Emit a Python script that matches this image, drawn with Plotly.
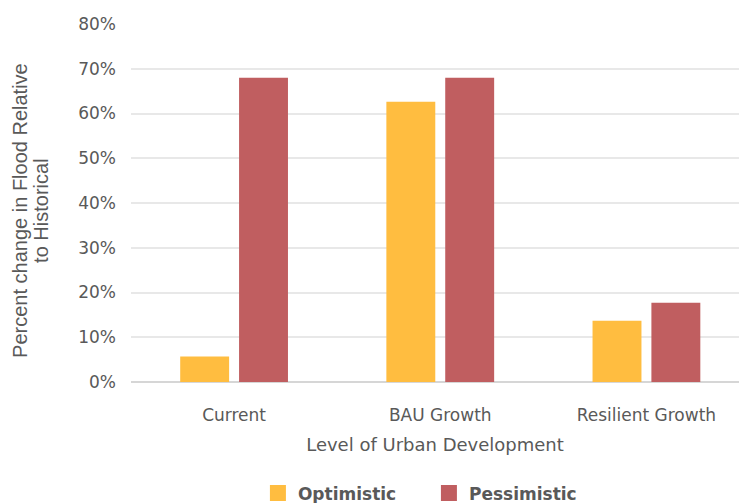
import plotly.graph_objects as go

categories = ["Current", "BAU Growth", "Resilient Growth"]
optimistic = [0.057, 0.626, 0.137]
pessimistic = [0.680, 0.680, 0.177]
y_ticks = [0, 0.1, 0.2, 0.3, 0.4, 0.5, 0.6, 0.7, 0.8]
y_title_lines = ["Percent change in Flood Relative", "to Historical"]

YELLOW = "#FFBD40"
RED = "#C05E60"
TEXT = "#595959"
FONT = "DejaVu Sans"
TITLE_FONT = "Liberation Sans"

fig = go.Figure()
fig.add_trace(go.Bar(x=categories, y=optimistic, name="Optimistic",
                     marker=dict(color=YELLOW, line=dict(width=0)), showlegend=False))
fig.add_trace(go.Bar(x=categories, y=pessimistic, name="Pessimistic",
                     marker=dict(color=RED, line=dict(width=0)), showlegend=False))

# legend entries with larger square swatches
for name, col in [("Optimistic", YELLOW), ("Pessimistic", RED)]:
    fig.add_trace(go.Scatter(x=[None], y=[None], mode="markers", name=name,
                             marker=dict(symbol="square", size=19, color=col)))

# two-line vertical y-axis title with tight line spacing
for i, line in enumerate(y_title_lines):
    fig.add_annotation(text=line, textangle=-90, showarrow=False,
                       xref="paper", yref="paper", x=0, y=0.478,
                       xanchor="center", yanchor="middle",
                       xshift=-111 + 21 * i,
                       font=dict(family=TITLE_FONT, size=20, color=TEXT))

fig.update_layout(
    width=739, height=503,
    margin=dict(l=131, r=0, t=24, b=120.5, autoexpand=False),
    plot_bgcolor="white", paper_bgcolor="white",
    barmode="group", bargap=0.429, bargroupgap=0.169,
    font=dict(family=FONT, size=17, color=TEXT),
    legend=dict(orientation="h", x=0.49, xanchor="center", y=-0.311, yanchor="middle",
                font=dict(family=FONT, size=17, color=TEXT, weight="bold"),
                itemsizing="trace", entrywidth=126),
    xaxis=dict(range=[-0.5, 2.449], showgrid=False, showline=False, ticks="",
               ticklabelstandoff=21,
               title=dict(text="Level of Urban Development", standoff=14,
                          font=dict(size=18, color=TEXT)),
               tickfont=dict(size=17, color=TEXT)),
    yaxis=dict(range=[0, 0.8], tickvals=y_ticks, tickformat=".0%",
               showgrid=True, gridcolor="#E8E8E8", gridwidth=1.5,
               zeroline=True, zerolinecolor="#D6D6D6", zerolinewidth=2,
               ticks="", ticklabelstandoff=14,
               tickfont=dict(size=17, color=TEXT)),
)

fig.write_html("out.html")
